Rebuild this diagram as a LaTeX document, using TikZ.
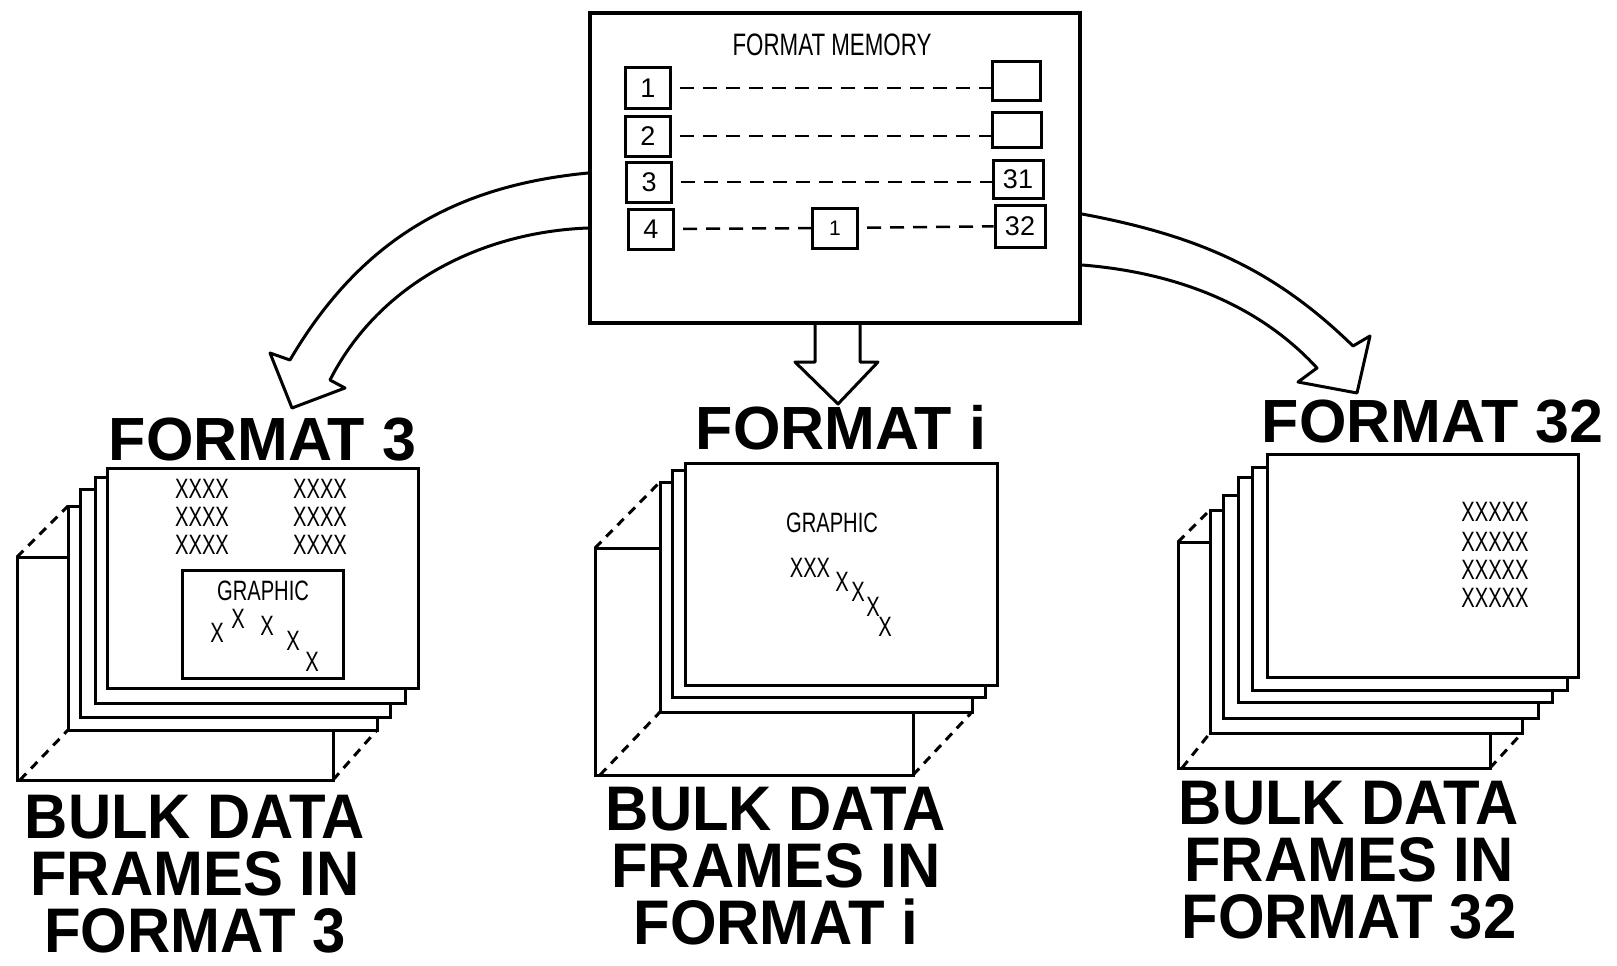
\documentclass[tikz,border=0pt]{standalone}
\usepackage{fontspec}
\setmainfont{Liberation Sans}
\usetikzlibrary{positioning, calc}
\tikzset{memblock/.style={draw, line width=4pt, minimum width=490pt, minimum height=310pt, inner sep=0pt},
slot/.style={draw, line width=3pt, minimum width=45pt, minimum height=40pt, inner sep=0pt, font=\fontsize{27}{29}\selectfont},
dashrow/.style={line width=2.5pt, dash pattern=on 14pt off 9pt, shorten <=8pt},
sheet/.style={draw, fill=white, line width=3pt, inner sep=0pt},
fold/.style={line width=3pt, dash pattern=on 9pt off 7pt},
typed/.style={font=\fontsize{28}{30}\selectfont, xscale=0.72, inner sep=0pt},
headline/.style={font=\bfseries\fontsize{61}{63}\selectfont, inner sep=0pt},
caption/.style={font=\bfseries\fontsize{63}{57}\selectfont, xscale=0.95, align=center, anchor=north, inner sep=0pt},
barrow/.style={line width=3pt, line join=round}
}

\begin{document}
\begin{tikzpicture}[x=1pt, y=-1pt]
\useasboundingbox (0,0) rectangle (1617,966);
\coordinate (memc) at (835,168);
% hollow arrows out of the format memory
\draw[barrow] ([yshift=-5pt]memc -| 588,0) .. controls (465,185) and (365,232) .. (290,360) -- (270,353) -- (292,408) -- (345,388) -- (330,380) .. controls (380,282) and (483,232) .. ([yshift=-60pt]memc -| 588,0);
\draw[barrow] ([yshift=-46pt]memc -| 1082,0) .. controls (1200,236) and (1275,270) .. (1353,346) -- (1370,336) -- (1357,393) -- (1298,382) -- (1317,368) .. controls (1262,308) and (1182,273) .. ([yshift=-97pt]memc -| 1082,0);
\node[memblock] (mem) at (memc) {};
\draw[barrow] ([xshift=-20pt]mem.south) -- ++(0,37) -- ++(-20,0) -- ++(43,42) -- ++(40,-42) -- ++(-18,0) -- ++(0,-37);
\node[typed, font=\fontsize{31}{33}\selectfont] (memtitle) at (832,45) {FORMAT MEMORY};
\node[slot] (s1) at (648,88) {1};
\node[slot] (s2) at (648,136) {2};
\node[slot] (s3) at (649,182) {3};
\node[slot] (s4) at (651,229) {4};
\node[slot, minimum width=48pt, minimum height=38pt] (t1) at (1016,81) {};
\node[slot, minimum width=49pt, minimum height=35pt] (t2) at (1017,130) {};
\node[slot, minimum width=50pt, minimum height=38pt] (t31) at (1018,179) {31};
\node[slot, minimum width=50pt, minimum height=42pt] (t32) at (1020,226) {32};
\node[slot, font=\fontsize{21}{22}\selectfont] (mid) at (835,228) {\raisebox{-6pt}{1}};
\draw[dashrow] (s1) -- (s1 -| t1.west);
\draw[dashrow] (s2) -- (s2 -| t2.west);
\draw[dashrow] (s3) -- (s3 -| t31.west);
\draw[dashrow] (s4) -- (mid);
\draw[dashrow] (mid) -- (t32);

% stack for format 3
\draw[sheet] (17,557) rectangle (333,780);
\draw[fold] (17,557) -- (68,506) (20,780) -- (68,730) (333,780) -- (377,730);
\foreach \l/\t/\r/\b in {68/506/377/730, 80/489/390/717, 95/477/405/703}
  \draw[sheet] (\l,\t) rectangle (\r,\b);
\node[sheet, minimum width=311pt, minimum height=220pt] (card3) at (262.5,578) {};
\foreach \y [count=\k] in {489,517,545} {
  \node[typed] (xa\k) at (202,\y) {XXXX};
  \node[typed] (xb\k) at (320,\y) {XXXX};
}
\node[sheet, minimum width=161pt, minimum height=108pt] (graph3) at (262.5,624) {};
\node[typed] (g3) at (263,591) {GRAPHIC};
\foreach \x/\y [count=\k] in {217/633, 238/619, 267/626, 293/641, 312/662}
  \node[typed] (pa\k) at (\x,\y) {X};
\node[headline, above=5pt of card3] (h3) {FORMAT 3};
\node[caption] (cap3) at (195,795) {BULK DATA\\FRAMES IN\\FORMAT 3};

% stack for format i
\draw[sheet] (595,548) rectangle (913,775);
\draw[fold] (595,548) -- (660,482) (600,775) -- (660,712) (913,775) -- (972,712);
\foreach \l/\t/\r/\b in {660/482/972/712, 672/470/985/697}
  \draw[sheet] (\l,\t) rectangle (\r,\b);
\node[sheet, minimum width=312pt, minimum height=222pt] (cardi) at (841,574) {};
\node[typed] (gi) at (832,523) {GRAPHIC};
\node[typed] (pb0) at (810,568) {XXX};
\foreach \x/\y [count=\k] in {842/582, 858/592, 873/607, 885/627}
  \node[typed] (pb\k) at (\x,\y) {X};
\node[headline, above=11pt of cardi] (hi) {FORMAT i};
\node[caption] (capi) at (776,787) {BULK DATA\\FRAMES IN\\FORMAT i};

% stack for format 32
\draw[sheet] (1178,542) rectangle (1490,768);
\draw[fold] (1178,542) -- (1210,510) (1182,768) -- (1210,733) (1490,768) -- (1522,733);
\foreach \l/\t/\r/\b in {1210/510/1522/733, 1223/495/1538/718, 1238/477/1552/702, 1252/467/1567/690}
  \draw[sheet] (\l,\t) rectangle (\r,\b);
\node[sheet, minimum width=311pt, minimum height=223pt] (card32) at (1422.5,565.5) {};
\foreach \y [count=\k] in {512,542,570,598}
  \node[typed] (xc\k) at (1495,\y) {XXXXX};
\node[headline, above=9pt of card32, xshift=10pt] (h32) {FORMAT 32};
\node[caption] (cap32) at (1349,781) {BULK DATA\\FRAMES IN\\FORMAT 32};
\end{tikzpicture}
\end{document}
